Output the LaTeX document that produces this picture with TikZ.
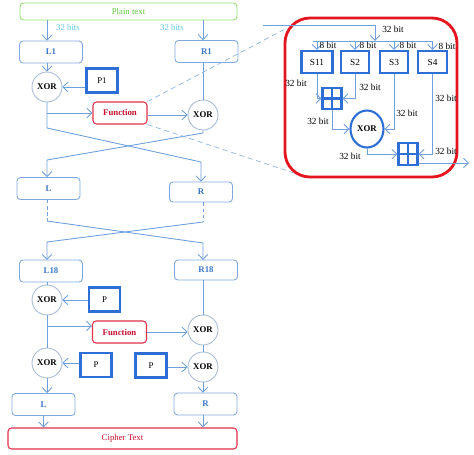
\documentclass[tikz,border=0pt]{standalone}
\usepackage{fontspec}
\setmainfont{Liberation Serif}
\usetikzlibrary{calc}
\usetikzlibrary{shapes,arrows}
\usetikzlibrary{arrows.meta}

\definecolor{lineblue}{HTML}{6FA0DC}
\definecolor{boxblue}{HTML}{7FA9DE}
\definecolor{txtblue}{HTML}{3A78C8}
\definecolor{pblue}{HTML}{2E6FD6}
\definecolor{funred}{HTML}{E0304A}
\definecolor{funtxt}{HTML}{C8102E}
\definecolor{framered}{HTML}{E4151F}
\definecolor{plaingreen}{HTML}{8EE06A}
\definecolor{plaintxt}{HTML}{5CC83C}
\definecolor{bitcyan}{HTML}{5CC8E8}
\definecolor{xorgray}{HTML}{A8BCD8}
\definecolor{zoomblue}{HTML}{8FB4E0}

\begin{document}
\begin{tikzpicture}[x=0.02cm,y=-0.02cm,
  lnk/.style={draw=lineblue, line width=0.5pt},
  arr/.style={lnk, -{Straight Barb[length=2.8pt,width=5.5pt]}},
  zoomln/.style={draw=zoomblue, line width=0.4pt, densely dashed},
  flowbox/.style={draw=boxblue, rounded corners=2pt, line width=0.5pt, fill=white, text=txtblue,
    font=\fontsize{5}{6}\selectfont\bfseries, minimum width=1.26cm, minimum height=0.44cm, inner sep=0pt},
  pbox/.style={draw=pblue, line width=1.3pt, fill=white, minimum width=0.62cm, minimum height=0.48cm,
    font=\fontsize{5}{6}\selectfont, inner sep=0pt},
  xorc/.style={circle, draw=xorgray, line width=0.5pt, fill=white, minimum size=0.6cm, inner sep=0pt,
    font=\fontsize{5}{6}\selectfont\bfseries},
  funbox/.style={draw=funred, rounded corners=2pt, line width=0.6pt, fill=white, text=funtxt,
    font=\fontsize{5}{6}\selectfont\bfseries, minimum width=1.08cm, minimum height=0.44cm, inner sep=0pt},
  sbox/.style={draw=pblue, line width=1.2pt, fill=white, minimum width=0.58cm, minimum height=0.44cm,
    font=\fontsize{5.3}{6}\selectfont, inner sep=0pt},
  gridbox/.style={draw=pblue, line width=1.2pt, minimum width=0.38cm, minimum height=0.42cm, inner sep=0pt,
    path picture={\draw[pblue, line width=1.2pt]
      (path picture bounding box.north) -- (path picture bounding box.south)
      (path picture bounding box.west) -- (path picture bounding box.east);}},
  bitlbl/.style={font=\fontsize{5.3}{6}\selectfont, inner sep=0pt},
  bits/.style={font=\fontsize{5}{6}\selectfont, text=bitcyan, inner sep=0pt}
]
\useasboundingbox (0,0) rectangle (474,454);

% plain text and first round
\node[flowbox, draw=plaingreen, text=plaintxt, font=\fontsize{5}{6}\selectfont,
  minimum width=4.34cm, minimum height=0.34cm] (plain) at (128.5,11.5) {Plain text};
\node[flowbox] (L1) at (51,52) {L1};
\node[flowbox] (R1) at (206.5,51.5) {R1};
\node[xorc] (xorA) at (47,87) {XOR};
\node[pbox] (P1) at (102,80.5) {P1};
\node[funbox] (fun1) at (120,113) {Function};
\node[xorc] (xorB) at (203,115) {XOR};
\node[flowbox] (L) at (48.5,188.5) {L};
\node[flowbox, minimum height=0.4cm] (R) at (201,192) {R};

\draw[arr] (plain.south -| xorA) -- (L1.north -| xorA);
\draw[arr] (plain.south -| xorB) -- (R1.north -| xorB);
\node[bits] at (68,27) {32 bits};
\node[bits] at (172,27) {32 bits};
\draw[arr] (L1.south -| xorA) -- (xorA.north);
\draw[arr] (P1.west |- xorA) -- (xorA.east);
\draw[lnk] (R1.south -| xorB) -- (xorB.north);
\coordinate (a1) at (47,113);
\draw[arr] (a1) -- (fun1.west);
\draw[arr] (fun1.east |- xorB) -- (xorB.west);

% swap after the round
\coordinate (c1) at (47,128);
\coordinate (c2) at (201,162);
\coordinate (c3) at (203,133);
\coordinate (c4) at (47,160);
\draw[arr] (xorA.south) -- (c1) -- (c2) -- (R.north -| c2);
\draw[arr] (xorB.south) -- (c3) -- (c4) -- (L.north -| c4);

% rounds in between
\coordinate (d1) at (47,221);
\coordinate (d2) at (203,243);
\coordinate (d3) at (203,222);
\coordinate (d4) at (47,242);
\draw[lnk, dash pattern=on 2pt off 1.5pt] (L.south -| d1) -- (d1);
\draw[lnk, dash pattern=on 2pt off 1.5pt] (R.south -| d3) -- (d3);
\draw[arr] (d1) -- (d2) -- (d2 |- 0,260);
\draw[arr] (d3) -- (d4) -- (d4 |- 0,260);

% last round
\node[flowbox] (L18) at (51,271) {L18};
\node[flowbox, minimum height=0.4cm] (R18) at (206,270) {R18};
\node[xorc] (xorC) at (47,300) {XOR};
\node[pbox] (P2) at (104.5,299.5) {P};
\node[funbox] (fun2) at (119.5,332) {Function};
\node[xorc] (xorD) at (203,330) {XOR};
\node[xorc] (xorE) at (47,363) {XOR};
\node[pbox] (P3) at (96,365) {P};
\node[pbox] (P4) at (151,365.5) {P};
\node[xorc] (xorF) at (203,367) {XOR};
\node[flowbox] (Lout) at (43.5,404.5) {L};
\node[flowbox] (Rout) at (205.5,404) {R};
\node[funbox, font=\fontsize{5}{6}\selectfont, minimum width=4.58cm, minimum height=0.42cm]
  (cipher) at (122.5,438.5) {Cipher Text};

\draw[lnk] (L18.south -| xorC) -- (xorC.north);
\draw[arr] (P2.west |- xorC) -- (xorC.east);
\draw[lnk] (xorC.south) -- (xorE.north);
\coordinate (b1) at (47,326);
\draw[arr] (b1) -- (fun2.west |- b1);
\draw[lnk] (R18.south -| xorD) -- (xorD.north);
\draw[arr] (fun2.east) -- (fun2.east -| xorD.west);
\draw[lnk] (xorD.south) -- (xorF.north);
\draw[arr] (P3.west |- xorE) -- (xorE.east);
\draw[arr] (P4.east |- xorF) -- (xorF.west);
\draw[arr] (xorE.south) -- (Lout.north -| xorE);
\draw[arr] (xorF.south) -- (Rout.north -| xorF);
\draw[arr] (Lout.south) -- (cipher.north -| Lout.south);
\draw[arr] (Rout.south -| xorF) -- (cipher.north -| xorF);

% zoom into the function
\coordinate (zt) at (287,28);
\coordinate (zb) at (297,174);
\draw[zoomln] (fun1.north east) -- (zt);
\draw[zoomln] (fun1.south east) -- (zb);
\draw[framered, line width=1.6pt, rounded corners=0.5cm] (285,18) rectangle (457,177);

\node[sbox, minimum width=0.62cm] (S11) at (317,62) {S11};
\node[sbox, minimum width=0.56cm] (S2) at (355,62) {S2};
\node[sbox, minimum width=0.56cm] (S3) at (394,62) {S3};
\node[sbox] (S4) at (432.5,62) {S4};
\node[gridbox] (grid1) at (332,98.5) {};
\node[ellipse, draw=pblue, line width=1.2pt, minimum width=0.66cm, minimum height=0.74cm, inner sep=0pt,
  font=\fontsize{5}{6}\selectfont\bfseries] (xorG) at (367,129) {XOR};
\node[gridbox, minimum height=0.44cm] (grid2) at (408,154) {};

\coordinate (in0) at (263,25);
\coordinate (in1) at (375,41);
\draw[arr] (in0) -| (in1);
\node[bitlbl] at (393,29) {32 bit};
\coordinate (bar1) at (313,41);
\coordinate (bar2) at (432,41);
\draw[lnk] (bar1) -- (bar2);
\foreach \s in {S11,S2,S3,S4}
  \draw[arr] (\s.north |- bar1) -- (\s.north);
\node[bitlbl] at (328,45) {8 bit};
\node[bitlbl] at (368,45) {8 bit};
\node[bitlbl] at (408,45) {8 bit};
\node[bitlbl] at (447,46) {8 bit};

\draw[arr] (S11.south) |- (grid1.west);
\draw[arr] (S2.south) |- (grid1.east);
\draw[arr] (grid1.south) |- (xorG.west);
\draw[arr] (S3.south) |- (xorG.east);
\draw[arr] (xorG.south) |- (grid2.west);
\draw[arr] (S4.south) |- (grid2.east);
\coordinate (gout) at (469,163);
\draw[arr] (grid2.east |- gout) -- (gout);

\node[bitlbl] at (296,83) {32 bit};
\node[bitlbl] at (370,87) {32 bit};
\node[bitlbl] at (407,113) {32 bit};
\node[bitlbl] at (318,121) {32 bit};
\node[bitlbl] at (350,156) {32 bit};
\node[bitlbl] at (446,98) {32 bit};
\node[bitlbl] at (446,151) {32 bit};
\end{tikzpicture}
\end{document}
